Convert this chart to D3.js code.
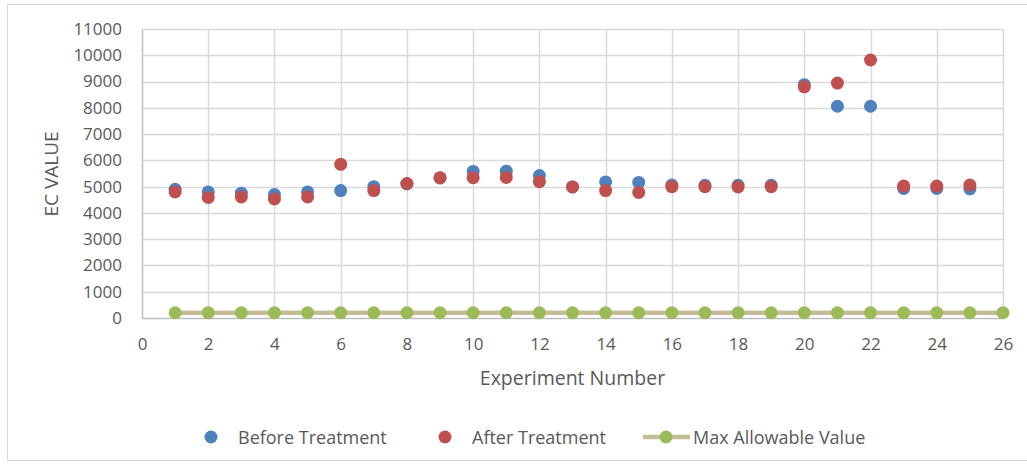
<!DOCTYPE html>
<html>
<head>
<meta charset="utf-8">
<script src="https://cdn.jsdelivr.net/npm/d3@7"></script>
<style>
  body { margin: 0; background: #fff; }
  text { font-family: "Open Sans", sans-serif; fill: #595959; }
</style>
</head>
<body>
<div id="chart"></div>
<script>
// chart size
const width = 1027;
const height = 468;

// data
const experiments = d3.range(1, 26);          // 1..25
const beforeTreatment = [4900, 4800, 4750, 4700, 4800, 4850, 5000, 5100, 5330, 5580, 5590, 5420, 4990, 5180, 5160, 5060, 5050, 5050, 5050, 8880, 8060, 8060, 4930, 4930, 4910];
const afterTreatment  = [4800, 4590, 4610, 4530, 4610, 5850, 4850, 5120, 5340, 5340, 5350, 5190, 4990, 4850, 4780, 5000, 5000, 4990, 5000, 8800, 8940, 9820, 5020, 5020, 5060];
const maxExperiments = d3.range(1, 27);       // 1..26
const maxAllowable = maxExperiments.map(() => 200);
const xTicks = d3.range(0, 27, 2);
const yTicks = d3.range(0, 11001, 1000);

const colors = { before: "#4F81BD", after: "#C0504D", max: "#9BBB59", maxLine: "#C4BD97" };

const margin = { left: 142, right: 24, top: 29, bottom: 150 };

const svg = d3.select("#chart").append("svg")
  .attr("width", width)
  .attr("height", height);

// outer chart border
svg.append("rect")
  .attr("x", 7.5).attr("y", 4.5)
  .attr("width", 1040).attr("height", 456)
  .attr("fill", "none")
  .attr("stroke", "#d9d9d9");

const x = d3.scaleLinear().domain([0, 26]).range([margin.left, width - margin.right]);
const y = d3.scaleLinear().domain([0, 11000]).range([height - margin.bottom, margin.top]);

// gridlines
svg.append("g")
  .selectAll("line.h")
  .data(yTicks.slice(1))
  .enter().append("line")
  .attr("x1", x(0)).attr("x2", x(26))
  .attr("y1", d => Math.round(y(d)) + 0.5).attr("y2", d => Math.round(y(d)) + 0.5)
  .attr("stroke", "#d9d9d9").attr("stroke-width", 1.5);

svg.append("g")
  .selectAll("line.v")
  .data(xTicks.slice(1))
  .enter().append("line")
  .attr("x1", d => Math.round(x(d)) + 0.5).attr("x2", d => Math.round(x(d)) + 0.5)
  .attr("y1", y(0)).attr("y2", y(11000))
  .attr("stroke", "#d9d9d9").attr("stroke-width", 1.5);

// axes
const xAxis = d3.axisBottom(x).tickValues(xTicks).tickSize(0).tickPadding(20);
const yAxis = d3.axisLeft(y).tickValues(yTicks).tickSize(0).tickPadding(20).tickFormat(d3.format("d"));

const gx = svg.append("g")
  .attr("transform", `translate(0,${y(0)})`)
  .call(xAxis);
gx.select(".domain").attr("stroke", "#bfbfbf").attr("stroke-width", 1.5);
gx.selectAll("text").style("font-size", "17px");

const gy = svg.append("g")
  .attr("transform", `translate(${x(0)},0)`)
  .call(yAxis);
gy.select(".domain").attr("stroke", "#bfbfbf").attr("stroke-width", 1.5);
gy.selectAll("text").style("font-size", "17px");

// axis titles
svg.append("text")
  .attr("x", (x(0) + x(26)) / 2)
  .attr("y", 385)
  .attr("text-anchor", "middle")
  .style("font-size", "19.5px")
  .text("Experiment Number");

svg.append("text")
  .attr("transform", "translate(58,174) rotate(-90)")
  .attr("text-anchor", "middle")
  .style("font-size", "19px")
  .text("EC VALUE");

// max allowable line
const line = d3.line()
  .x((d, i) => x(maxExperiments[i]))
  .y(d => y(d));

svg.append("path")
  .datum(maxAllowable)
  .attr("d", line)
  .attr("fill", "none")
  .attr("stroke", colors.maxLine)
  .attr("stroke-width", 4.5);

svg.append("g")
  .selectAll("circle")
  .data(maxAllowable)
  .enter().append("circle")
  .attr("cx", (d, i) => x(maxExperiments[i]))
  .attr("cy", d => y(d))
  .attr("r", 6.5)
  .attr("fill", colors.max);

// before and after scatter
svg.append("g")
  .selectAll("circle")
  .data(beforeTreatment)
  .enter().append("circle")
  .attr("cx", (d, i) => x(experiments[i]))
  .attr("cy", d => y(d))
  .attr("r", 6.5)
  .attr("fill", colors.before);

svg.append("g")
  .selectAll("circle")
  .data(afterTreatment)
  .enter().append("circle")
  .attr("cx", (d, i) => x(experiments[i]))
  .attr("cy", d => y(d))
  .attr("r", 6.5)
  .attr("fill", colors.after);

// legend
const legendY = 437;
const legend = svg.append("g");

legend.append("circle").attr("cx", 211).attr("cy", legendY).attr("r", 6.5).attr("fill", colors.before);
legend.append("text").attr("x", 238).attr("y", legendY + 6.5).style("font-size", "18px").text("Before Treatment");

legend.append("circle").attr("cx", 445).attr("cy", legendY).attr("r", 6.5).attr("fill", colors.after);
legend.append("text").attr("x", 472).attr("y", legendY + 6.5).style("font-size", "18px").text("After Treatment");

legend.append("line").attr("x1", 643).attr("x2", 690).attr("y1", legendY).attr("y2", legendY)
  .attr("stroke", colors.maxLine).attr("stroke-width", 4.5);
legend.append("circle").attr("cx", 666).attr("cy", legendY).attr("r", 6.5).attr("fill", colors.max);
legend.append("text").attr("x", 693).attr("y", legendY + 6.5).style("font-size", "18px").text("Max Allowable Value");
</script>
</body>
</html>
